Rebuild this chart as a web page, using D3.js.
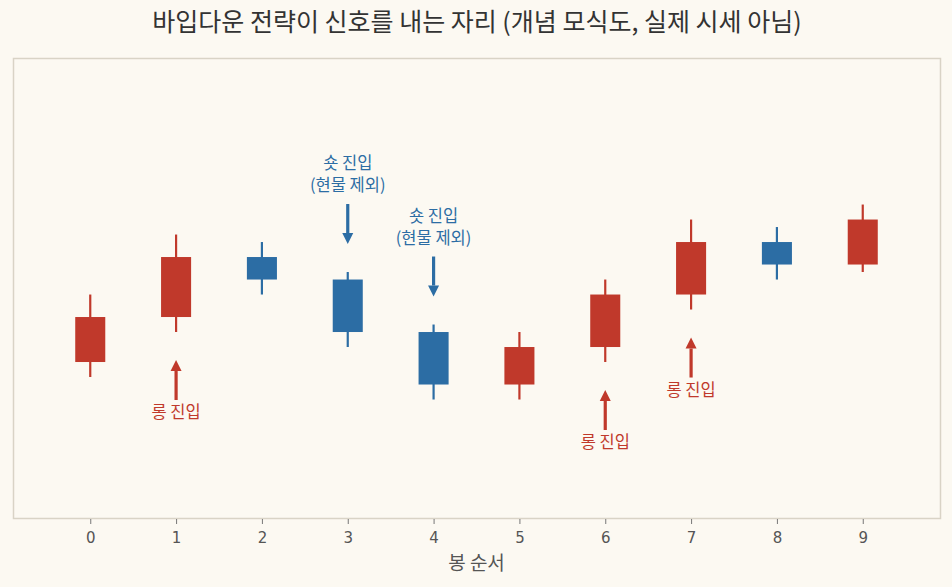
<!DOCTYPE html>
<html>
<head>
<meta charset="utf-8">
<script src="https://cdn.jsdelivr.net/npm/d3@7"></script>
<style>
  body { margin: 0; background: #fcf9f2; }
  svg { display: block; font-family: "Noto Sans CJK KR", "Noto Sans", sans-serif; }
</style>
</head>
<body>
<svg id="chart"></svg>
<script>
// candle data (concept sketch, not real prices)
const bars = [0, 1, 2, 3, 4, 5, 6, 7, 8, 9]
const opens  = [100, 103, 107, 105.5, 102, 98.5, 101, 104.5, 108, 106.5]
const closes = [103, 107, 105.5, 102, 98.5, 101, 104.5, 108, 106.5, 109.5]
const highs  = [104.5, 108.5, 108, 106, 102.5, 102, 105.5, 109.5, 109, 110.5]
const lows   = [99, 102, 104.5, 101, 97.5, 97.5, 100, 103.5, 105.5, 106]

const longEntries = [1, 6, 7]
const shortEntries = [3, 4]
const longLabel = "롱 진입"
const shortLabel = ["숏 진입", "(현물 제외)"]

const upColor = "#c0392b"
const downColor = "#2c6da4"

const W = 952, H = 587
const frame = { left: 13, right: 940, top: 58, bottom: 518 }

const svg = d3.select("#chart").attr("width", W).attr("height", H)

const x = d3.scaleLinear().domain([-0.9, 9.9]).range([frame.left, frame.right])
const y = d3.scaleLinear().domain([89.6, 120.27]).range([frame.bottom, frame.top])

// title
svg.append("text")
  .attr("x", W / 2 + 1).attr("y", 31)
  .attr("text-anchor", "middle")
  .attr("font-size", 25)
  .attr("fill", "#333")
  .text("바입다운 전략이 신호를 내는 자리 (개념 모식도, 실제 시세 아님)")

// plot frame
svg.append("rect")
  .attr("x", frame.left + 0.5).attr("y", frame.top + 0.5)
  .attr("width", frame.right - frame.left).attr("height", frame.bottom - frame.top)
  .attr("fill", "#fcf9f2")
  .attr("stroke", "#d9d3c6")
  .attr("stroke-width", 1.5)

// x axis
const xAxis = svg.append("g")
  .attr("transform", "translate(0," + (frame.bottom + 1) + ")")
  .call(d3.axisBottom(x).tickValues(bars).tickFormat(d3.format("d")).tickSize(5).tickPadding(8))
xAxis.select(".domain").remove()
xAxis.selectAll("line").attr("stroke", "#777")
xAxis.selectAll("text").attr("font-size", 15).attr("fill", "#555")
  .attr("font-family", "DejaVu Sans, sans-serif")

svg.append("text")
  .attr("x", (x(4) + x(5)) / 2).attr("y", 570)
  .attr("text-anchor", "middle")
  .attr("font-size", 19)
  .attr("fill", "#555")
  .text("봉 순서")

// candles
const bodyW = x(0.35) - x(0)
const candle = svg.append("g").selectAll("g")
  .data(bars)
  .enter()
  .append("g")

candle.append("line")
  .attr("x1", d => x(d)).attr("x2", d => x(d))
  .attr("y1", d => y(highs[d])).attr("y2", d => y(lows[d]))
  .attr("stroke", d => closes[d] >= opens[d] ? upColor : downColor)
  .attr("stroke-width", 2.2)

candle.append("rect")
  .attr("x", d => x(d) - bodyW / 2)
  .attr("y", d => y(Math.max(opens[d], closes[d])))
  .attr("width", bodyW)
  .attr("height", d => Math.abs(y(opens[d]) - y(closes[d])))
  .attr("fill", d => closes[d] >= opens[d] ? upColor : downColor)

// arrows
function arrow(g, cx, yTail, yTip, color) {
  const dir = yTip < yTail ? -1 : 1
  const headLen = 11
  g.append("line")
    .attr("x1", cx).attr("x2", cx)
    .attr("y1", yTail).attr("y2", yTip - dir * headLen)
    .attr("stroke", color).attr("stroke-width", 3.2)
  g.append("path")
    .attr("d", "M" + (cx - 5.5) + "," + (yTip - dir * headLen) +
               "L" + (cx + 5.5) + "," + (yTip - dir * headLen) +
               "L" + cx + "," + yTip + "Z")
    .attr("fill", color)
}

const ann = svg.append("g")

longEntries.forEach(function (i) {
  const tip = y(lows[i]) + 28
  arrow(ann, x(i), tip + 40, tip, upColor)
  ann.append("text")
    .attr("x", x(i)).attr("y", tip + 58)
    .attr("text-anchor", "middle")
    .attr("font-size", 16.5)
    .attr("fill", upColor)
    .text(longLabel)
})

shortEntries.forEach(function (i) {
  const tip = y(highs[i]) - 28
  arrow(ann, x(i), tip - 40, tip, downColor)
  shortLabel.forEach(function (s, k) {
    ann.append("text")
      .attr("x", x(i)).attr("y", tip - 75 + k * 22)
      .attr("text-anchor", "middle")
      .attr("font-size", 16.5)
      .attr("fill", downColor)
      .text(s)
  })
})
</script>
</body>
</html>
